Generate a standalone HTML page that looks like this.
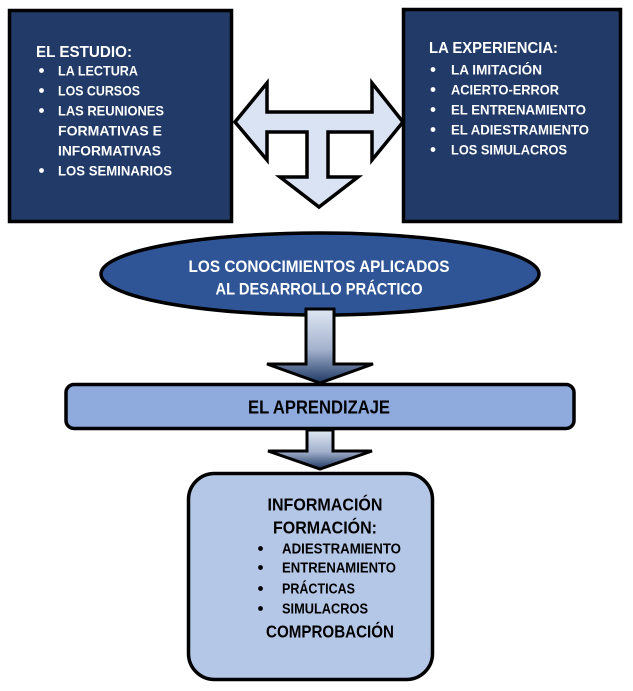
<!DOCTYPE html>
<html>
<head>
<meta charset="utf-8">
<style>
  html, body { margin:0; padding:0; background:#ffffff; }
  body { width:633px; height:691px; overflow:hidden; }
  svg { display:block; }
  text { font-family: "Liberation Sans", Arial, sans-serif; font-weight: bold; }
</style>
</head>
<body>
<svg width="633" height="691" viewBox="0 0 633 691" xmlns="http://www.w3.org/2000/svg">
  <defs>
    <linearGradient id="ag" x1="0" y1="0" x2="0" y2="1">
      <stop offset="0" stop-color="#e0e8f4"/>
      <stop offset="0.55" stop-color="#a3b1cd"/>
      <stop offset="1" stop-color="#1f3864"/>
    </linearGradient>
  </defs>
  <rect x="0" y="0" width="633" height="691" fill="#ffffff"/>

  <!-- Left dark box -->
  <rect x="9.5" y="10.5" width="222" height="211" fill="#213a68" stroke="#000" stroke-width="3.5"/>
  <g fill="#ffffff" lengthAdjust="spacingAndGlyphs">
    <text x="36" y="57" font-size="16" textLength="96" lengthAdjust="spacingAndGlyphs">EL ESTUDIO:</text>
    <circle cx="41.5" cy="70.5" r="2.4"/>
    <text x="58" y="75.5" font-size="14" textLength="80" lengthAdjust="spacingAndGlyphs">LA LECTURA</text>
    <circle cx="41.5" cy="90.5" r="2.4"/>
    <text x="58" y="95.5" font-size="14" textLength="82" lengthAdjust="spacingAndGlyphs">LOS CURSOS</text>
    <circle cx="41.5" cy="110.5" r="2.4"/>
    <text x="58" y="115.5" font-size="14" textLength="106" lengthAdjust="spacingAndGlyphs">LAS REUNIONES</text>
    <text x="58" y="135.5" font-size="14" textLength="104" lengthAdjust="spacingAndGlyphs">FORMATIVAS E</text>
    <text x="58" y="155.5" font-size="14" textLength="103" lengthAdjust="spacingAndGlyphs">INFORMATIVAS</text>
    <circle cx="41.5" cy="170.5" r="2.4"/>
    <text x="58" y="175.5" font-size="14" textLength="114" lengthAdjust="spacingAndGlyphs">LOS SEMINARIOS</text>
  </g>

  <!-- Right dark box -->
  <rect x="403.5" y="9.5" width="217" height="212" fill="#213a68" stroke="#000" stroke-width="3.5"/>
  <g fill="#ffffff">
    <text x="429" y="53" font-size="16" textLength="129" lengthAdjust="spacingAndGlyphs">LA EXPERIENCIA:</text>
    <circle cx="433" cy="69.5" r="2.4"/>
    <text x="451" y="74.5" font-size="14" textLength="91" lengthAdjust="spacingAndGlyphs">LA IMITACIÓN</text>
    <circle cx="433" cy="89.5" r="2.4"/>
    <text x="451" y="94.5" font-size="14" textLength="108" lengthAdjust="spacingAndGlyphs">ACIERTO-ERROR</text>
    <circle cx="433" cy="109.5" r="2.4"/>
    <text x="451" y="114.5" font-size="14" textLength="135" lengthAdjust="spacingAndGlyphs">EL ENTRENAMIENTO</text>
    <circle cx="433" cy="129.5" r="2.4"/>
    <text x="451" y="134.5" font-size="14" textLength="138" lengthAdjust="spacingAndGlyphs">EL ADIESTRAMIENTO</text>
    <circle cx="433" cy="149.5" r="2.4"/>
    <text x="451" y="154.5" font-size="14" textLength="116" lengthAdjust="spacingAndGlyphs">LOS SIMULACROS</text>
  </g>

  <!-- T-shaped arrow -->
  <polygon points="235,122 267,83 267,112 372,112 372,83 403,122 372,160 372,132 328,132 328,177 358,177 319,207 280,177 307,177 307,132 267,132 267,160"
           fill="#dae3f3" stroke="#000" stroke-width="3.5" stroke-linejoin="miter"/>

  <!-- Ellipse -->
  <ellipse cx="320" cy="274" rx="219" ry="41" fill="#2f5597" stroke="#000" stroke-width="3.5"/>
  <g fill="#ffffff" text-anchor="middle">
    <text x="319" y="272" font-size="16.5" textLength="261" lengthAdjust="spacingAndGlyphs">LOS CONOCIMIENTOS APLICADOS</text>
    <text x="319" y="294.5" font-size="16.5" textLength="207" lengthAdjust="spacingAndGlyphs">AL DESARROLLO PRÁCTICO</text>
  </g>

  <!-- Arrow 1 -->
  <polygon points="306,309 334,309 334,364 373,364 320,383 267,364 306,364"
           fill="url(#ag)" stroke="#000" stroke-width="3" stroke-linejoin="miter"/>

  <!-- EL APRENDIZAJE box -->
  <rect x="66" y="384.5" width="508" height="44" rx="8" ry="8" fill="#8faadc" stroke="#000" stroke-width="3.5"/>
  <text x="319" y="413.5" font-size="18" fill="#000" text-anchor="middle" textLength="142" lengthAdjust="spacingAndGlyphs">EL APRENDIZAJE</text>

  <!-- Arrow 2 -->
  <polygon points="307,430 333,430 333,451 372,451 320,469 268,451 307,451"
           fill="url(#ag)" stroke="#000" stroke-width="3" stroke-linejoin="miter"/>

  <!-- Bottom rounded box -->
  <rect x="188.5" y="473.5" width="244" height="206" rx="26" ry="26" fill="#b4c7e7" stroke="#000" stroke-width="3.5"/>
  <g fill="#000">
    <text x="325" y="510.5" font-size="17.5" text-anchor="middle" textLength="115" lengthAdjust="spacingAndGlyphs">INFORMACIÓN</text>
    <text x="325" y="533.5" font-size="17.5" text-anchor="middle" textLength="104" lengthAdjust="spacingAndGlyphs">FORMACIÓN:</text>
    <circle cx="260.5" cy="548.5" r="2.4"/>
    <text x="282" y="553.5" font-size="14.5" textLength="119" lengthAdjust="spacingAndGlyphs">ADIESTRAMIENTO</text>
    <circle cx="260.5" cy="567.5" r="2.4"/>
    <text x="282" y="572.5" font-size="14.5" textLength="114" lengthAdjust="spacingAndGlyphs">ENTRENAMIENTO</text>
    <circle cx="260.5" cy="588.5" r="2.4"/>
    <text x="282" y="593.5" font-size="14.5" textLength="73" lengthAdjust="spacingAndGlyphs">PRÁCTICAS</text>
    <circle cx="260.5" cy="608.5" r="2.4"/>
    <text x="282" y="613.5" font-size="14.5" textLength="86" lengthAdjust="spacingAndGlyphs">SIMULACROS</text>
    <text x="330" y="637.5" font-size="17.5" text-anchor="middle" textLength="128" lengthAdjust="spacingAndGlyphs">COMPROBACIÓN</text>
  </g>
</svg>
</body>
</html>
